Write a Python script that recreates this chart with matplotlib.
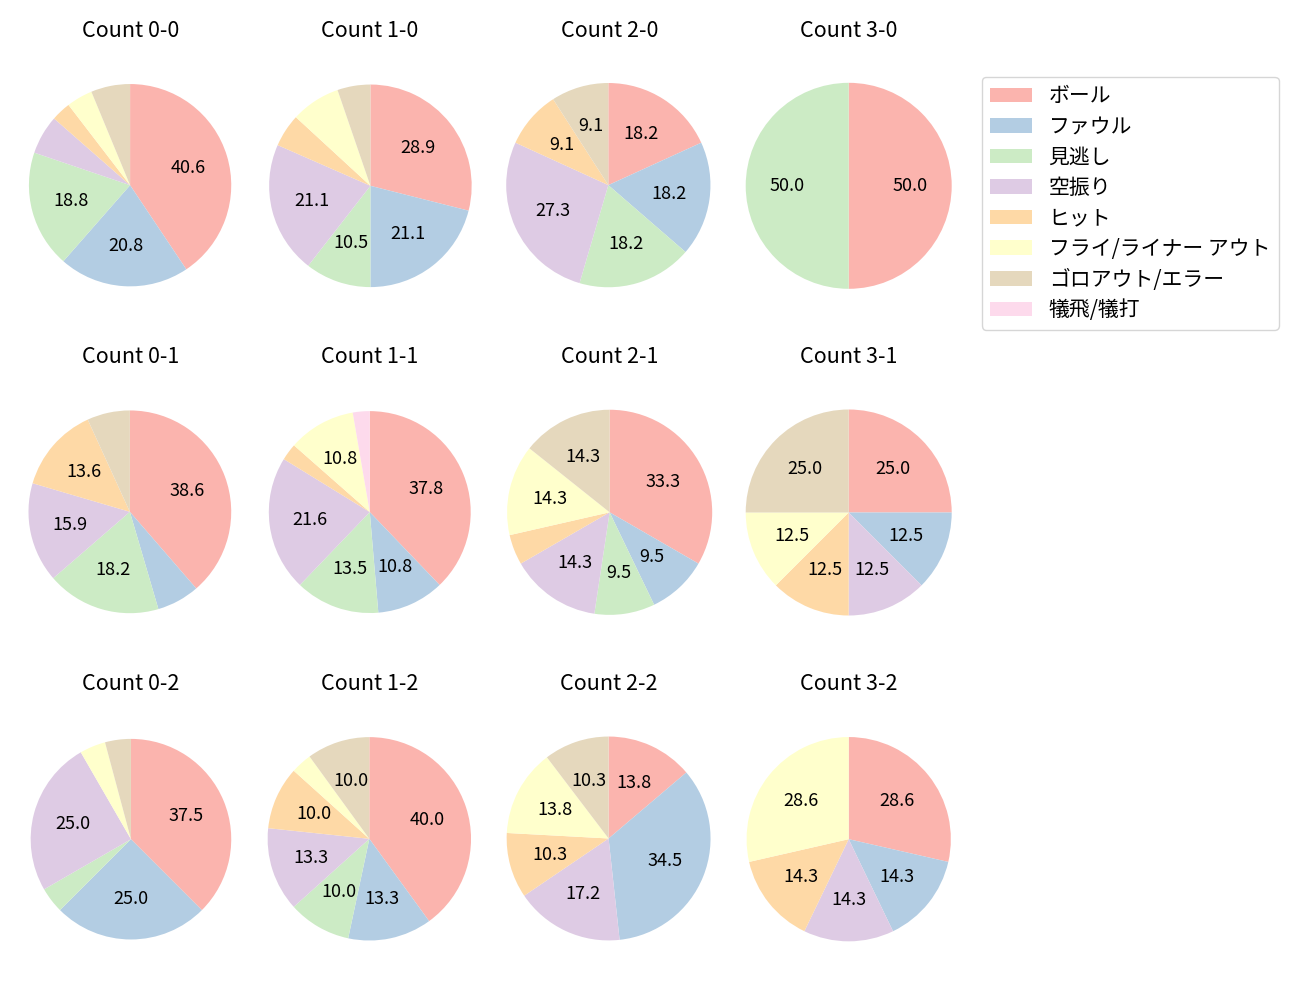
import matplotlib
matplotlib.use("Agg")
import matplotlib.pyplot as plt
import numpy as np

plt.rcParams['font.family'] = ['Noto Sans CJK JP', 'DejaVu Sans']

categories = ["ボール", "ファウル", "見逃し", "空振り", "ヒット", "フライ/ライナー アウト", "ゴロアウト/エラー", "犠飛/犠打"]
colors = ["#fbb4ae", "#b3cde3", "#ccebc5", "#decbe4", "#fed9a6", "#ffffcc", "#e5d8bd", "#fddaec"]

counts = ["0-0", "1-0", "2-0", "3-0",
          "0-1", "1-1", "2-1", "3-1",
          "0-2", "1-2", "2-2", "3-2"]

values = {
    "0-0": [39, 20, 18, 6, 3, 4, 6, 0],
    "1-0": [11, 8, 4, 8, 2, 3, 2, 0],
    "2-0": [2, 2, 2, 3, 1, 0, 1, 0],
    "3-0": [1, 0, 1, 0, 0, 0, 0, 0],
    "0-1": [17, 3, 8, 7, 6, 0, 3, 0],
    "1-1": [14, 4, 5, 8, 1, 4, 0, 1],
    "2-1": [7, 2, 2, 3, 1, 3, 3, 0],
    "3-1": [2, 1, 0, 1, 1, 1, 2, 0],
    "0-2": [9, 6, 1, 6, 0, 1, 1, 0],
    "1-2": [12, 4, 3, 4, 3, 1, 3, 0],
    "2-2": [4, 10, 0, 5, 3, 4, 3, 0],
    "3-2": [2, 1, 0, 1, 1, 2, 0, 0],
}

fig, axes = plt.subplots(3, 4, figsize=(13, 10), dpi=100)
fig.subplots_adjust(left=0.013, right=0.74, top=0.955, bottom=0.02,
                    wspace=0.057, hspace=0.16)

def fmt(p):
    return f"{p:.1f}" if p >= 8 else ""

handles = None
for ax, c in zip(axes.flat, counts):
    wedges, texts, autotexts = ax.pie(values[c], colors=colors, startangle=90,
                                      counterclock=False, autopct=fmt,
                                      textprops={'fontsize': 13})
    ax.set_title(f"Count {c}", fontsize=15.5)
    ax.axis('equal')
    for w in wedges:
        p = w.get_path()
        v = p.vertices[p.codes != 79] if p.codes is not None else p.vertices
        ax.update_datalim(v)
    ax.autoscale_view()
    if c == "0-0":
        handles = wedges

fig.legend(handles, categories, loc="upper left", bbox_to_anchor=(0.7554, 0.923),
           bbox_transform=fig.transFigure, borderaxespad=0, fontsize=15,
           labelspacing=0.41)
fig.savefig("out.png", dpi=100)
